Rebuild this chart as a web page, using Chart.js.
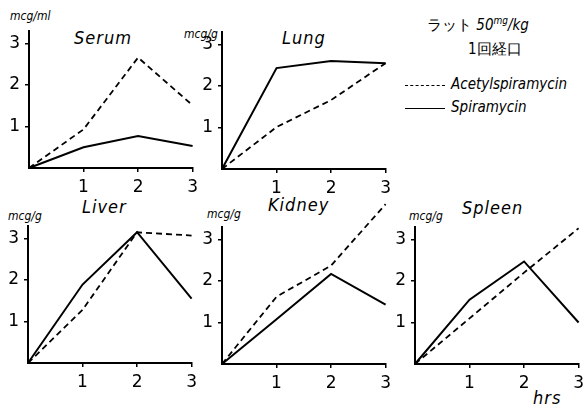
<!DOCTYPE html>
<html>
<head>
<meta charset="utf-8">
<script src="https://cdn.jsdelivr.net/npm/chart.js"></script>
<style>
body{margin:0;background:#fff;width:583px;height:410px;position:relative;overflow:hidden;font-family:'DejaVu Sans',sans-serif;color:#000;}
canvas{position:absolute;}
.t{position:absolute;font-style:italic;white-space:nowrap;line-height:1;font-stretch:condensed;}
.ttl{font-size:18px;letter-spacing:1px;}
.unit{font-size:12px;}
.leg{font-size:15px;}
.ln{position:absolute;width:40px;height:0;}
</style>
</head>
<body>

<div class="t unit" style="left:10px;top:10px;">mcg/ml</div>
<div class="t unit" style="left:184px;top:28px;">mcg/g</div>
<div class="t unit" style="left:8px;top:210px;">mcg/g</div>
<div class="t unit" style="left:207px;top:208px;">mcg/g</div>
<div class="t unit" style="left:409px;top:210px;">mcg/g</div>

<div class="t ttl" style="left:74px;top:29px;">Serum</div>
<div class="t ttl" style="left:282px;top:29px;">Lung</div>
<div class="t ttl" style="left:82px;top:198px;">Liver</div>
<div class="t ttl" style="left:268px;top:196px;">Kidney</div>
<div class="t ttl" style="left:462px;top:199px;">Spleen</div>
<div class="t ttl" style="left:533px;top:389px;">hrs</div>

<div class="t leg" style="left:427px;top:16px;font-style:normal;">ラット <i>50<sup style="font-size:10px">mg</sup>/kg</i></div>
<div class="t leg" style="left:468px;top:42px;font-style:normal;">1回経口</div>
<div class="ln" style="left:405px;top:85px;border-top:1.5px dashed #000;"></div>
<div class="t leg" style="left:451px;top:77px;">Acetylspiramycin</div>
<div class="ln" style="left:405px;top:108px;border-top:1.5px solid #000;"></div>
<div class="t leg" style="left:451px;top:100px;">Spiramycin</div>

<canvas id="c0"></canvas>
<canvas id="c1"></canvas>
<canvas id="c2"></canvas>
<canvas id="c3"></canvas>
<canvas id="c4"></canvas>

<script>
// data (hrs after oral dose, concentration)
const hours = [0, 1, 2, 3];
const xTicks = [1, 2, 3];
const yTicks = [1, 2, 3];

const serumAcetyl = [0, 0.93, 2.66, 1.51];
const serumSpira = [0, 0.5, 0.77, 0.53];
const lungAcetyl = [0, 1.01, 1.66, 2.55];
const lungSpira = [0, 2.43, 2.6, 2.55];
const liverAcetyl = [0, 1.28, 3.15, 3.07];
const liverSpira = [0, 1.89, 3.15, 1.55];
const kidneyAcetyl = [0, 1.62, 2.37, 3.85];
const kidneySpira = [0, 1.08, 2.17, 1.43];
const spleenAcetyl = [0, 1.1, 2.2, 3.27];
const spleenSpira = [0, 1.55, 2.47, 1.0];

const yMax = 3.3;

// layout: where the y axis sits and where the zero line is
const UX = 55.3, UY = 41.5;
const Y_W = 30, X_H = 30, PAD_T = 30, PAD_R = 8;
const panels = [
  {id: 'c0', ax: 29, base: 168, a: serumAcetyl, s: serumSpira},
  {id: 'c1', ax: 222, base: 169, a: lungAcetyl, s: lungSpira},
  {id: 'c2', ax: 28, base: 363, a: liverAcetyl, s: liverSpira},
  {id: 'c3', ax: 222, base: 364, a: kidneyAcetyl, s: kidneySpira},
  {id: 'c4', ax: 415, base: 364, a: spleenAcetyl, s: spleenSpira}
];

const font = {family: "'DejaVu Sans',sans-serif", size: 17};

function pts(vals) {
  return hours.map((h, i) => ({x: h, y: vals[i]}));
}

panels.forEach(p => {
  const cv = document.getElementById(p.id);
  const w = Y_W + 3 * UX + PAD_R;
  const h = PAD_T + yMax * UY + X_H;
  cv.width = Math.round(w);
  cv.height = Math.round(h);
  cv.style.left = (p.ax - Y_W) + 'px';
  cv.style.top = Math.round(p.base - yMax * UY - PAD_T) + 'px';

  new Chart(cv, {
    type: 'line',
    data: {
      datasets: [
        {data: pts(p.a), borderColor: '#000', borderWidth: 1.8, borderDash: [6, 4], pointRadius: 0, fill: false, clip: false, tension: 0},
        {data: pts(p.s), borderColor: '#000', borderWidth: 2, pointRadius: 0, fill: false, clip: false, tension: 0}
      ]
    },
    options: {
      responsive: false,
      animation: false,
      layout: {padding: {top: PAD_T, right: PAD_R, left: 0, bottom: 0}},
      plugins: {legend: {display: false}, tooltip: {enabled: false}},
      scales: {
        x: {
          type: 'linear', min: 0, max: 3,
          afterFit: s => { s.height = X_H; },
          afterBuildTicks: s => { s.ticks = xTicks.map(v => ({value: v})); },
          grid: {drawOnChartArea: false, drawTicks: true, tickLength: 4, color: '#000', lineWidth: 1.5},
          border: {display: true, color: '#000', width: 2},
          ticks: {color: '#000', font: font, padding: 5, maxRotation: 0}
        },
        y: {
          min: 0, max: yMax,
          afterFit: s => { s.width = Y_W; },
          afterBuildTicks: s => { s.ticks = yTicks.map(v => ({value: v})); },
          grid: {drawOnChartArea: false, drawTicks: true, tickLength: 4, color: '#000', lineWidth: 1.5},
          border: {display: true, color: '#000', width: 2},
          ticks: {color: '#000', font: font, padding: 5}
        }
      }
    }
  });
});
</script>
</body>
</html>
